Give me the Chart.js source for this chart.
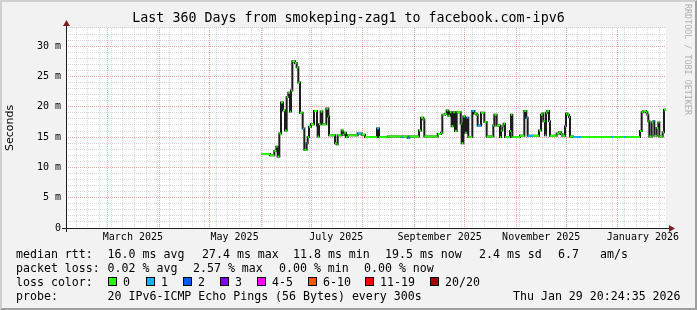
<!DOCTYPE html>
<html>
<head>
<meta charset="utf-8">
<script src="https://cdn.jsdelivr.net/npm/chart.js@4.4.1/dist/chart.umd.min.js"></script>
<style>
  html, body { margin: 0; padding: 0; background: #f2f2f2; }
  #wrap { position: relative; width: 697px; height: 310px; overflow: hidden; background: #f2f2f2; }
  #wrap canvas { position: absolute; left: 0; top: 0; }
  .leg { position: absolute; font-family: 'DejaVu Sans Mono', monospace; font-size: 11.6px; line-height: 14px; white-space: pre; color: #000; }
  .box { position: absolute; width: 9px; height: 9px; border: 1px solid #000; box-sizing: border-box; }
  #frame { position: absolute; left: 0; top: 0; width: 697px; height: 310px; box-sizing: border-box; border: 2px solid; border-color: #cfcfcf #9e9e9e #9e9e9e #cfcfcf; pointer-events: none; }
  #mark { position: absolute; left: 683px; top: 4px; writing-mode: vertical-rl; font-family: 'DejaVu Sans Mono', monospace; font-size: 8.4px; color: #b0b0b0; white-space: pre; }
</style>
</head>
<body>
<div id="wrap">
  <canvas id="smoke" width="697" height="310"></canvas>
  <div id="legend"></div>
  <div id="mark">RRDTOOL / TOBI OETIKER</div>
  <div id="frame"></div>
</div>
<script>
// days since 2025-02-03 20:24:35, median rtt in ms, lost pings of 20
const days = [
  117.4, 122.4, 125.0, 126.2, 127.0, 128.0, 129.0, 130.2, 131.4, 132.4,
  133.4, 134.4, 135.0, 135.8, 137.4, 138.4, 139.4, 140.4, 142.0, 143.0,
  144.4, 145.0, 145.8, 147.0, 148.8, 150.6, 151.0, 151.8, 152.8, 153.8,
  156.2, 157.4, 157.8, 161.4, 162.4, 163.0, 165.4, 166.0, 167.0, 168.0,
  169.0, 175.0, 177.4, 179.4, 186.6, 187.8, 193.0, 201.0, 202.0, 205.0,
  206.0, 211.8, 213.0, 214.4, 215.0, 223.0, 225.0, 225.8, 227.4, 228.4,
  229.4, 230.4, 231.4, 232.4, 233.4, 234.4, 236.8, 237.4, 238.4, 239.4,
  240.4, 241.4, 243.8, 245.0, 246.4, 247.0, 249.0, 251.0, 252.4, 256.4,
  257.0, 258.4, 260.4, 261.0, 261.8, 262.6, 263.4, 266.4, 267.0, 267.8,
  272.4, 275.0, 276.2, 277.0, 280.2, 283.8, 285.0, 285.8, 286.4, 287.4,
  288.0, 288.8, 289.8, 290.4, 294.4, 295.8, 297.0, 297.8, 299.4, 300.0,
  300.8, 301.8, 302.4, 304.2, 309.0, 327.0, 328.2, 334.8, 336.0, 344.4,
  345.4, 346.4, 348.0, 348.8, 349.4, 350.0, 351.4, 352.4, 353.0, 354.4,
  355.4, 356.0, 358.0, 358.8
];
const rttMs = [
  12.2, 12.0, 12.7, 13.4, 11.8, 15.6, 20.7, 19.4, 16.1, 21.6,
  22.3, 19.2, 22.7, 27.5, 27.2, 26.5, 24.0, 19.0, 16.4, 12.9,
  14.0, 15.0, 16.7, 17.1, 19.3, 16.9, 15.1, 17.1, 19.2, 17.1,
  19.7, 18.4, 15.3, 14.0, 13.8, 15.3, 16.1, 15.4, 15.7, 15.0,
  15.3, 15.6, 15.4, 15.0, 16.4, 15.0, 15.1, 15.0, 15.1, 14.9,
  15.1, 16.1, 18.2, 17.9, 15.1, 15.5, 15.7, 18.7, 18.8, 19.4,
  18.5, 19.1, 16.8, 19.1, 16.0, 19.1, 17.2, 14.0, 18.4, 15.7,
  18.2, 15.0, 19.3, 18.9, 18.7, 16.9, 19.0, 17.5, 15.1, 16.9,
  18.7, 16.9, 15.0, 16.1, 16.8, 17.2, 15.0, 16.0, 18.7, 15.0,
  15.2, 19.3, 18.2, 15.2, 15.2, 16.1, 18.7, 18.9, 17.6, 15.3,
  19.0, 19.3, 17.6, 15.2, 15.6, 15.8, 15.5, 15.2, 16.8, 18.9,
  18.7, 18.3, 15.1, 15.0, 15.0, 15.0, 15.0, 15.0, 15.0, 16.0,
  19.1, 19.3, 19.1, 18.7, 17.6, 15.1, 17.4, 17.6, 15.2, 16.5,
  17.4, 15.1, 15.8, 19.5
];
const lostPings = [
  0, 0, 0, 0, 0, 0, 0, 0, 0, 0,
  0, 0, 0, 0, 0, 0, 0, 0, 1, 0,
  1, 0, 0, 0, 0, 0, 0, 0, 0, 0,
  0, 0, 0, 0, 0, 0, 0, 0, 0, 0,
  0, 1, 0, 0, 1, 0, 0, 1, 0, 1,
  0, 0, 0, 0, 0, 0, 0, 0, 0, 0,
  0, 0, 0, 0, 0, 0, 0, 0, 0, 0,
  1, 0, 1, 0, 0, 1, 0, 0, 0, 0,
  0, 0, 0, 0, 0, 0, 0, 0, 0, 0,
  0, 0, 1, 1, 0, 0, 0, 0, 0, 0,
  0, 0, 0, 0, 0, 0, 0, 0, 1, 0,
  0, 0, 0, 1, 0, 1, 0, 1, 0, 0,
  0, 0, 0, 0, 0, 0, 0, 1, 0, 0,
  0, 0, 0, 0
];
const endDay = 360;

const labelMonths = ['2025-03', '2025-05', '2025-07', '2025-09', '2025-11', '2026-01'];
const monthLabels = ['March 2025', 'May 2025', 'July 2025', 'September 2025', 'November 2025', 'January 2026'];

const lossBuckets = ['0', '1', '2', '3', '4-5', '6-10', '11-19', '20/20'];
const lossColors = ['#26ff00', '#00b8ff', '#0059ff', '#7e00ff', '#ff00ff', '#ff5500', '#ff0000', '#a10000'];

const rttStats = ['median rtt:', '16.0 ms avg', '27.4 ms max', '11.8 ms min', '19.5 ms now', '2.4 ms sd', '6.7', 'am/s'];
const lossStats = ['packet loss:', '0.02 % avg', '2.57 % max', '0.00 % min', '0.00 % now'];
const probeRow = ['probe:', '20 IPv6-ICMP Echo Pings (56 Bytes) every 300s', 'Thu Jan 29 20:24:35 2026'];

// legend block below the graph
const legend = document.getElementById('legend');
function addText(x, y, text) {
  const d = document.createElement('div');
  d.className = 'leg';
  d.style.left = x + 'px';
  d.style.top = (y - 7) + 'px';
  d.textContent = text;
  legend.appendChild(d);
}
const rttX = [16, 107.6, 202, 293, 385, 479, 558, 600];
rttStats.forEach((t, i) => addText(rttX[i], 254, t));
const lossX = [16, 107.6, 193, 279, 364];
lossStats.forEach((t, i) => addText(lossX[i], 268, t));
addText(16, 282, 'loss color:');
const boxX = [108, 146, 183, 220, 257, 308, 365, 430];
lossBuckets.forEach((t, i) => {
  const b = document.createElement('div');
  b.className = 'box';
  b.style.left = boxX[i] + 'px';
  b.style.top = '277px';
  b.style.background = lossColors[i];
  legend.appendChild(b);
  addText(boxX[i] + 15, 282, t);
});
const probeX = [16, 107.6, 513];
probeRow.forEach((t, i) => addText(probeX[i], 296, t));

// time axis helpers
const start = Date.UTC(2025, 1, 3, 20, 24, 35);
const toDay = ms => (ms - start) / 864e5;

const xTicks = [];
for (let m = 2; m <= 12; m++) {
  xTicks.push({ value: toDay(Date.UTC(2025, m, 1)), kind: 'month' });
}
for (let t = Date.UTC(2025, 1, 10); toDay(t) < endDay; t += 7 * 864e5) {
  xTicks.push({ value: toDay(t), kind: 'week' });
}
labelMonths.forEach((s, i) => {
  const [y, m] = s.split('-').map(Number);
  xTicks.push({ value: toDay(Date.UTC(y, m - 1, 16)), kind: 'label', text: monthLabels[i] });
});
xTicks.sort((a, b) => a.value - b.value);

const stepPts = days.map((d, i) => ({ x: d, y: rttMs[i] }));
stepPts.push({ x: endDay, y: rttMs[rttMs.length - 1] });

const medianPts = [];
days.forEach((d, i) => {
  const next = i < days.length - 1 ? days[i + 1] : endDay;
  medianPts.push({ x: d, y: rttMs[i] }, { x: next, y: rttMs[i] }, { x: next, y: null });
});

const gridRed = 'rgba(222, 80, 80, 0.5)';
const gridGrey = 'rgba(143, 143, 143, 0.35)';
const mono = "'DejaVu Sans Mono', monospace";

const frame = {
  id: 'frame',
  beforeDraw(chart) {
    const { ctx, chartArea: a } = chart;
    ctx.save();
    ctx.fillStyle = '#f2f2f2';
    ctx.fillRect(0, 0, chart.width, chart.height);
    ctx.fillStyle = '#fff';
    ctx.fillRect(a.left, a.top, a.right - a.left, a.bottom - a.top);
    ctx.restore();
  },
  afterDraw(chart) {
    const { ctx, chartArea: a } = chart;
    ctx.save();
    ctx.strokeStyle = '#1f1f1f';
    ctx.lineWidth = 1;
    ctx.beginPath();
    ctx.moveTo(a.left - 4, a.bottom + 0.5);
    ctx.lineTo(a.right + 4, a.bottom + 0.5);
    ctx.moveTo(a.left + 0.5, a.bottom + 4);
    ctx.lineTo(a.left + 0.5, a.top - 3);
    ctx.stroke();
    ctx.fillStyle = '#801f1f';
    ctx.beginPath();
    ctx.moveTo(a.right + 3, a.bottom - 3);
    ctx.lineTo(a.right + 9, a.bottom + 0.5);
    ctx.lineTo(a.right + 3, a.bottom + 4);
    ctx.closePath();
    ctx.fill();
    ctx.beginPath();
    ctx.moveTo(a.left - 3, a.top - 2);
    ctx.lineTo(a.left + 0.5, a.top - 8);
    ctx.lineTo(a.left + 4, a.top - 2);
    ctx.closePath();
    ctx.fill();
    ctx.restore();
  }
};

const ctx = document.getElementById('smoke');

new Chart(ctx, {
  type: 'line',
  data: {
    datasets: [{
      label: 'median rtt',
      data: medianPts,
      borderWidth: 2,
      pointRadius: 0,
      spanGaps: false,
      segment: {
        borderColor: c => lossColors[lostPings[Math.floor(c.p0DataIndex / 3)]]
      }
    }, {
      label: 'steps',
      data: stepPts,
      stepped: true,
      borderColor: '#1c1c1c',
      borderWidth: 2,
      pointRadius: 0
    }]
  },
  options: {
    responsive: false,
    animation: false,
    layout: { padding: 0 },
    plugins: {
      legend: { display: false },
      tooltip: { enabled: false },
      title: {
        display: true,
        text: 'Last 360 Days from smokeping-zag1 to facebook.com-ipv6',
        color: '#000',
        font: { family: mono, size: 13.3, weight: 'normal' },
        padding: { top: 11, bottom: 1 }
      }
    },
    scales: {
      x: {
        type: 'linear',
        min: 0,
        max: endDay,
        afterBuildTicks: scale => { scale.ticks = xTicks.map(t => ({ ...t })); },
        afterFit: scale => { scale.height = 82; },
        ticks: {
          autoSkip: false,
          maxRotation: 0,
          padding: 3,
          color: '#000',
          font: { family: mono, size: 10 },
          callback: (v, i, ticks) => ticks[i].text || ''
        },
        grid: {
          drawTicks: false,
          color: c => c.tick.kind === 'month' ? gridRed : (c.tick.kind === 'week' ? gridGrey : 'rgba(0,0,0,0)')
        },
        border: { display: false, dash: [1, 1] }
      },
      y: {
        min: 0,
        max: 33,
        afterFit: scale => { scale.width = 66; },
        ticks: {
          stepSize: 1,
          autoSkip: false,
          padding: 5,
          color: '#000',
          font: { family: mono, size: 10 },
          callback: v => v % 5 === 0 ? (v === 0 ? '0' : v + ' m') : ''
        },
        grid: {
          drawTicks: false,
          color: c => c.tick.value % 5 === 0 ? gridRed : gridGrey
        },
        border: { display: false, dash: [1, 1] },
        title: {
          display: true,
          text: 'Seconds',
          color: '#000',
          font: { family: "'DejaVu Sans', sans-serif", size: 11 },
          padding: { top: 4, bottom: 0 }
        }
      },
      // empty right-hand strip so the plot ends at x=666
      yRight: {
        position: 'right',
        min: 0,
        max: 33,
        afterFit: scale => { scale.width = 31; },
        ticks: { display: false },
        grid: { display: false },
        border: { display: false }
      }
    }
  },
  plugins: [frame]
});
</script>
</body>
</html>
